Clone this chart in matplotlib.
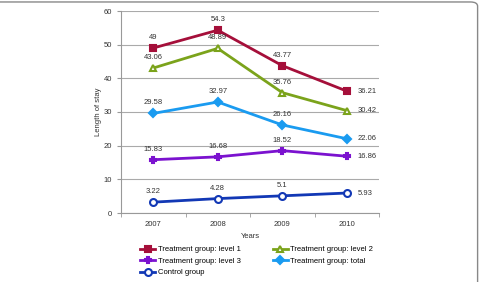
import matplotlib.pyplot as plt
from matplotlib.patches import FancyBboxPatch

years = ['2007', '2008', '2009', '2010']
level1 = [49, 54.3, 43.77, 36.21]
level2 = [43.06, 48.89, 35.76, 30.42]
level3 = [15.83, 16.68, 18.52, 16.86]
total = [29.58, 32.97, 26.16, 22.06]
control = [3.22, 4.28, 5.1, 5.93]

labels = ['Treatment group: level 1', 'Treatment group: level 2',
          'Treatment group: level 3', 'Treatment group: total', 'Control group']

plt.rcParams['font.family'] = ['Liberation Sans', 'DejaVu Sans']

fig = plt.figure(figsize=(4.8, 2.82), dpi=100)
ax = fig.add_axes([121 / 480, 1 - 213 / 282, 258 / 480, 202 / 282])

# rounded frame, cropped at the left and bottom
frame = FancyBboxPatch((-0.02, -0.05), 1.015, 1.043, boxstyle='round,pad=0,rounding_size=0.015',
                       transform=fig.transFigure, fc='none', ec='#888888', lw=1.0, clip_on=False)
fig.patches.append(frame)

x = range(len(years))
series = [
    (level1, '#A50F3A', 's', '#A50F3A', 4),
    (level2, '#7BA31B', '^', 'white', 5),
    (level3, '#7B12CF', 'P', '#7B12CF', 5),
    (total, '#1A9BF0', 'D', '#1A9BF0', 4),
    (control, '#1238B5', 'o', 'white', 5),
]
lines = []
for (vals, col, mk, fc, ms), lab in zip(series, labels):
    ln, = ax.plot(x, vals, color=col, lw=2, marker=mk, ms=ms, mfc=fc, mec=col, mew=1.5, label=lab)
    lines.append(ln)
    for i, v in enumerate(vals):
        txt = '{:g}'.format(v)
        if i == 3:
            ax.annotate(txt, (i, v), xytext=(8, 0), textcoords='offset points',
                        fontsize=5.5, color='#333333', va='center', ha='left')
        else:
            ax.annotate(txt, (i, v), xytext=(0, 5), textcoords='offset points',
                        fontsize=5.5, color='#333333', va='bottom', ha='center')

ax.set_xlim(-0.5, 3.5)
ax.set_ylim(0, 60)
ax.set_yticks(range(0, 61, 10))
ax.set_xticks(x)
ax.set_xticklabels(years)
ax.set_xticks([-0.5, 0.5, 1.5, 2.5, 3.5], minor=True)
ax.tick_params(axis='x', which='major', length=0, labelsize=5.5, colors='#333333', pad=6)
ax.tick_params(axis='x', which='minor', length=3, color='#999999')
ax.tick_params(axis='y', labelsize=5.5, colors='#333333', length=3, color='#999999')
ax.grid(axis='y', color='#aaaaaa', lw=0.8)
ax.set_axisbelow(True)
for s in ['top', 'right']:
    ax.spines[s].set_visible(False)
for s in ['left', 'bottom']:
    ax.spines[s].set_color('#999999')
ax.set_xlabel('Years', fontsize=5.5, color='#333333', labelpad=3)
ax.set_ylabel('Length of stay', fontsize=5.5, color='#333333', labelpad=1)

# legend is filled row by row in the reference
order = [0, 2, 4, 1, 3]
fig.legend(handles=[lines[i] for i in order], loc='upper left',
           bbox_to_anchor=(140 / 480, 1 - 246 / 282), ncol=2,
           frameon=False, fontsize=5.5, handlelength=2.0, handletextpad=0.3,
           columnspacing=4.2, labelspacing=0.55, borderaxespad=0, borderpad=0)

fig.savefig('out.png', dpi=100)
